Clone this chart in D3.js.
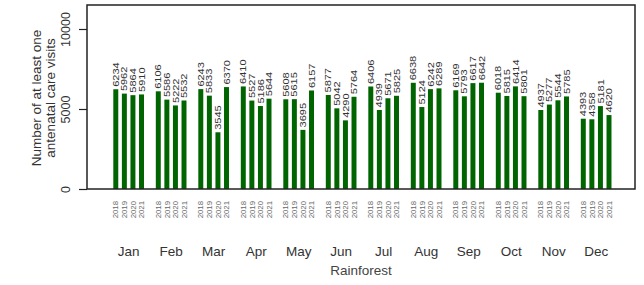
<!DOCTYPE html>
<html><head><meta charset="utf-8">
<script src="https://cdn.jsdelivr.net/npm/d3@7"></script>
<style>
html,body{margin:0;padding:0;background:#fff;}
text{font-family:"Liberation Sans",Arial,sans-serif;}
</style></head>
<body><svg id="chart" width="644" height="285"></svg>
<script>
const months = ["Jan","Feb","Mar","Apr","May","Jun","Jul","Aug","Sep","Oct","Nov","Dec"];
const years = ["2018","2019","2020","2021"];
const v2018 = [6234,6106,6243,6410,5608,5877,6406,6638,6169,6018,4937,4393];
const v2019 = [5962,5586,5833,5527,5615,5042,4939,5124,5793,5815,5277,4358];
const v2020 = [5864,5222,3545,5186,3695,4290,5671,6242,6617,6414,5544,5181];
const v2021 = [5910,5532,6370,5644,6157,5764,5825,6289,6642,5801,5785,4620];
const yTicks = [0,5000,10000];
const xTitle = "Rainforest";
const yTitle = ["Number of at least one","antenatal care visits"];

const series = [v2018,v2019,v2020,v2021];
const data = [];
months.forEach((m,i)=>years.forEach((y,j)=>data.push({month:m,year:y,value:series[j][i]})));

const svg = d3.select("#chart");
const box = {left:87, right:635, top:5, bottom:189};

const y = d3.scaleLinear().domain([0,11500]).range([box.bottom, box.top]);
const x0 = d3.scaleBand().domain(months).range([107.4,617.4]).paddingInner(0.278).paddingOuter(0.139);
const x1 = d3.scaleBand().domain(years).range([0,x0.bandwidth()]).paddingInner(0.42).paddingOuter(0);

// bars
const g = svg.append("g");
g.selectAll("rect").data(data).enter().append("rect")
  .attr("x",d=>x0(d.month)+x1(d.year))
  .attr("width",x1.bandwidth())
  .attr("y",d=>y(d.value))
  .attr("height",d=>y(0)-y(d.value))
  .attr("fill","#006400");

// value labels
g.selectAll("text.val").data(data).enter().append("text")
  .attr("class","val")
  .attr("transform",d=>`translate(${x0(d.month)+x1(d.year)+x1.bandwidth()/2+3.1},${y(d.value)-2.5}) rotate(-90) scale(1,0.76)`)
  .attr("font-size","11px").attr("fill","#333")
  .text(d=>d.value);

// year labels
g.selectAll("text.yr").data(data).enter().append("text")
  .attr("class","yr")
  .attr("transform",d=>`translate(${x0(d.month)+x1(d.year)+x1.bandwidth()/2+2.7},${box.bottom+12}) rotate(-90)`)
  .attr("text-anchor","end")
  .attr("font-size","7.8px").attr("fill","#666")
  .text(d=>d.year);

// month labels
svg.selectAll("text.mo").data(months).enter().append("text")
  .attr("x",d=>x0(d)+x0.bandwidth()/2).attr("y",256)
  .attr("text-anchor","middle").attr("font-size","13.5px").attr("fill","#333")
  .text(d=>d);

// x title
svg.append("text").attr("x",(box.left+box.right)/2).attr("y",275)
  .attr("text-anchor","middle").attr("font-size","13.5px").attr("fill","#444")
  .text(xTitle);

// y axis
const yAxis = d3.axisLeft(y).tickValues(yTicks).tickSize(8).tickFormat(d3.format("d"));
const ya = svg.append("g").attr("transform",`translate(${box.left},0)`).call(yAxis);
ya.select(".domain").remove();
ya.selectAll("line").attr("stroke","#222").attr("stroke-width",1.2);
ya.selectAll("text").attr("font-size","12.5px").attr("fill","#333")
  .attr("x",null).attr("dy",null)
  .attr("text-anchor","middle")
  .attr("transform","translate(-17,0) rotate(-90)")
  .attr("y",0);

// y title
svg.append("text").attr("transform","translate(41,98) rotate(-90)")
  .attr("text-anchor","middle").attr("font-size","13.5px").attr("fill","#333")
  .selectAll("tspan").data(yTitle).enter().append("tspan")
  .attr("x",0).attr("dy",(d,i)=>i===0?0:14).text(d=>d);

// box
svg.append("rect").attr("x",box.left).attr("y",box.top)
  .attr("width",box.right-box.left).attr("height",box.bottom-box.top)
  .attr("fill","none").attr("stroke","#222").attr("stroke-width",1.5);
</script></body></html>
